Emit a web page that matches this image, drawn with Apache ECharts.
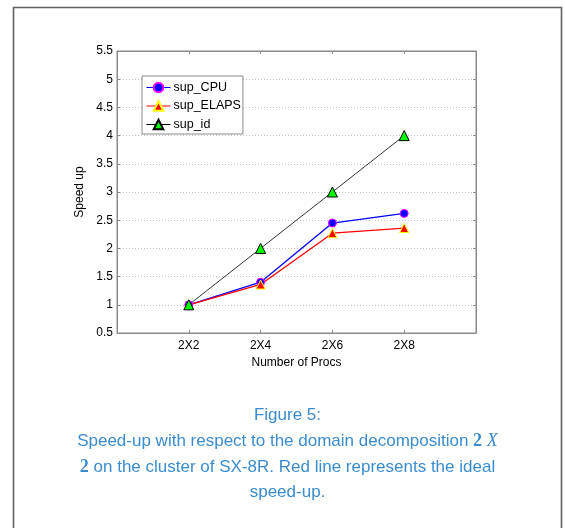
<!DOCTYPE html>
<html>
<head>
<meta charset="utf-8">
<script src="https://cdn.jsdelivr.net/npm/echarts@6/dist/echarts.min.js"></script>
<style>
html,body{margin:0;padding:0;background:#fff;}
#chart{width:565px;height:528px;}
</style>
</head>
<body>
<div id="chart"></div>
<script>
const categories = ['2X2', '2X4', '2X6', '2X8'];
const supCPU = [1.0, 1.40, 2.45, 2.62];
const supELAPS = [1.0, 1.36, 2.27, 2.36];
const supId = [1, 2, 3, 4];
const yTicks = [0.5, 5.5, 0.5]; // min, max, interval

const xPos = categories.map((c, i) => i + 2);
function pts(vals) { return vals.map((v, i) => [xPos[i], v]); }

const chart = echarts.init(document.getElementById('chart'), null, {renderer: 'canvas'});
const axisGray = '#8a8a8a';
const font = 'Liberation Sans';
const capColor = '#3a8ccf';

const option = {
  animation: false,
  backgroundColor: '#fff',
  textStyle: {fontFamily: font},
  grid: {left: 117, top: 51, right: 89, bottom: 195, show: true, borderColor: axisGray, borderWidth: 1, containLabel: false},
  legend: {
    left: 142, top: 76, orient: 'vertical',
    backgroundColor: '#fff', borderColor: axisGray, borderWidth: 1, borderRadius: 0,
    padding: [5, 2, 3, 4], itemGap: 5.5, itemWidth: 24, itemHeight: 12,
    lineStyle: {width: 1},
    textStyle: {fontFamily: font, fontSize: 12.5, color: '#000', padding: [0, 0, 0, -2]},
    data: ['sup_CPU', 'sup_ELAPS', 'sup_id']
  },
  xAxis: [{
    type: 'value', min: 1, max: 6, interval: 1,
    name: 'Number of Procs', nameLocation: 'middle', nameGap: 21,
    nameTextStyle: {fontFamily: font, fontSize: 12, color: '#000'},
    axisLine: {show: true, lineStyle: {color: axisGray}},
    axisTick: {show: true, inside: true, length: 3, lineStyle: {color: axisGray}},
    axisLabel: {fontFamily: font, fontSize: 12, color: '#000', margin: 7,
      formatter: v => { const i = xPos.indexOf(v); return i >= 0 ? categories[i] : ''; }},
    splitLine: {show: false}
  }, {
    type: 'value', min: 1, max: 6, interval: 1, position: 'top',
    axisLine: {show: true, lineStyle: {color: axisGray}},
    axisTick: {show: true, inside: true, length: 3, lineStyle: {color: axisGray}},
    axisLabel: {show: false}, splitLine: {show: false}
  }],
  yAxis: [{
    type: 'value', min: yTicks[0], max: yTicks[1], interval: yTicks[2],
    name: 'Speed up', nameLocation: 'middle', nameGap: 23, nameRotate: 90,
    nameTextStyle: {fontFamily: font, fontSize: 12, color: '#000'},
    axisLine: {show: true, lineStyle: {color: axisGray}},
    axisTick: {show: true, inside: true, length: 3, lineStyle: {color: axisGray}},
    axisLabel: {fontFamily: font, fontSize: 12, color: '#000', margin: 4,
      formatter: v => String(v)},
    splitLine: {show: true, lineStyle: {color: '#c4c4c4', type: [1, 2], width: 1}}
  }, {
    type: 'value', min: yTicks[0], max: yTicks[1], interval: yTicks[2], position: 'right',
    axisLine: {show: true, lineStyle: {color: axisGray}},
    axisTick: {show: true, inside: true, length: 3, lineStyle: {color: axisGray}},
    axisLabel: {show: false}, splitLine: {show: false}
  }],
  series: [{
    name: 'sup_CPU', type: 'line', data: pts(supCPU),
    symbol: 'circle', symbolSize: 8,
    lineStyle: {color: '#0000ff', width: 1.3},
    itemStyle: {color: '#0000ff', borderColor: '#ff00ff', borderWidth: 1}
  }, {
    name: 'sup_ELAPS', type: 'line', data: pts(supELAPS),
    symbol: 'triangle', symbolSize: 9,
    lineStyle: {color: '#ff0000', width: 1.3},
    itemStyle: {color: '#ff0000', borderColor: '#ffff00', borderWidth: 1}
  }, {
    name: 'sup_id', type: 'line', data: pts(supId),
    symbol: 'triangle', symbolSize: 10,
    lineStyle: {color: '#000000', width: 0.8},
    itemStyle: {color: '#00ff00', borderColor: '#000000', borderWidth: 1}
  }],
  graphic: [
    {type: 'rect', shape: {x: 13.5, y: 7.5, width: 548, height: 540}, style: {fill: 'none', stroke: '#606060', lineWidth: 1.6}, silent: true},
    {type: 'text', x: 287.5, y: 415, style: {text: 'Figure 5:', font: '17px "Liberation Sans"', fill: capColor, align: 'center', verticalAlign: 'middle'}},
    {type: 'text', x: 287.5, y: 441, style: {
      text: '{a|Speed-up with respect to the domain decomposition }{b|2}{a| }{c|X}',
      fill: capColor, align: 'center', verticalAlign: 'middle',
      rich: {
        a: {fontFamily: font, fontSize: 17, fill: capColor},
        b: {fontFamily: 'Liberation Serif', fontWeight: 'bold', fontSize: 18, fill: capColor},
        c: {fontFamily: 'Liberation Serif', fontStyle: 'italic', fontSize: 18, fill: capColor}
      }}},
    {type: 'text', x: 287.5, y: 467, style: {
      text: '{b|2}{a| on the cluster of SX-8R. Red line represents the ideal}',
      fill: capColor, align: 'center', verticalAlign: 'middle',
      rich: {
        a: {fontFamily: font, fontSize: 17, fill: capColor},
        b: {fontFamily: 'Liberation Serif', fontWeight: 'bold', fontSize: 18, fill: capColor}
      }}},
    {type: 'text', x: 287.5, y: 492, style: {text: 'speed-up.', font: '17px "Liberation Sans"', fill: capColor, align: 'center', verticalAlign: 'middle'}}
  ]
};
chart.setOption(option);
</script>
</body>
</html>
